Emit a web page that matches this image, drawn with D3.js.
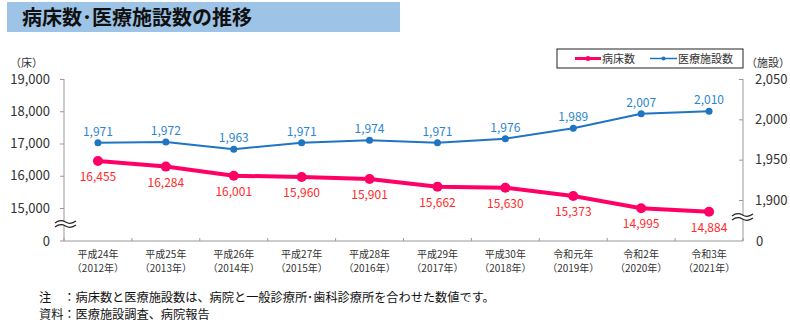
<!DOCTYPE html>
<html><head><meta charset="utf-8">
<script src="https://cdn.jsdelivr.net/npm/d3@7"></script>
<style>
body{margin:0;background:#fff;}
svg text{font-family:"Noto Sans CJK JP","Noto Sans",sans-serif;}
</style></head>
<body><svg id="c" width="790" height="328"></svg>
<script>
const categories1 = ["平成24年","平成25年","平成26年","平成27年","平成28年","平成29年","平成30年","令和元年","令和2年","令和3年"];
const categories2 = ["（2012年）","（2013年）","（2014年）","（2015年）","（2016年）","（2017年）","（2018年）","（2019年）","（2020年）","（2021年）"];
const beds = [16455,16284,16001,15960,15901,15662,15630,15373,14995,14884];
const facilities = [1971,1972,1963,1971,1974,1971,1976,1989,2007,2010];
const leftTicks = [15000,16000,17000,18000,19000];
const rightTicks = [1900,1950,2000,2050];
const title = "病床数･医療施設数の推移";
const note1 = "注　：病床数と医療施設数は、病院と一般診療所･歯科診療所を合わせた数値です。";
const note2 = "資料：医療施設調査、病院報告";

const svg = d3.select("#c");
const pink = "#ff0066", blue = "#1f74c3", pinkLbl = "#ff2a2a", blueLbl = "#2b85cf", axisC = "#999";
const L = 64, R = 743, T = 79, B = 241;

// title bar
svg.append("rect").attr("x",7).attr("y",2).attr("width",393).attr("height",30).attr("fill","#9dc3e6");
svg.append("text").attr("x",22).attr("y",24.5).attr("font-size",20).attr("font-weight","bold").attr("fill","#111").text(title);

const x = d3.scalePoint().domain(d3.range(categories1.length)).range([L,R]).padding(0.5);
const yL = d3.scaleLinear().domain([15000,19000]).range([208,T]);
const yR = d3.scaleLinear().domain([1900,2050]).range([200,T]);

// axes lines
svg.append("line").attr("x1",L).attr("x2",L).attr("y1",T).attr("y2",B).attr("stroke",axisC);
svg.append("line").attr("x1",R).attr("x2",R).attr("y1",T).attr("y2",B).attr("stroke",axisC);
svg.append("line").attr("x1",L).attr("x2",R).attr("y1",B).attr("y2",B).attr("stroke",axisC);

// left ticks
const gl = svg.append("g").attr("transform",`translate(${L},0)`)
  .call(d3.axisLeft(yL).tickValues(leftTicks).tickFormat(d3.format(",")).tickSize(4).tickPadding(10));
gl.select(".domain").remove();
gl.selectAll("line").attr("stroke",axisC);
gl.selectAll("text").attr("font-size",13).attr("fill","#333").attr("font-family","Liberation Sans, Arial, sans-serif");
svg.append("text").attr("x",50).attr("y",B).attr("dy","0.35em").attr("text-anchor","end").attr("font-size",13).attr("fill","#333").attr("font-family","Liberation Sans, Arial, sans-serif").text("0");
svg.append("line").attr("x1",L-4).attr("x2",L).attr("y1",B).attr("y2",B).attr("stroke",axisC);

// right ticks (inward)
const gr = svg.append("g").attr("transform",`translate(${R},0)`)
  .call(d3.axisRight(yR).tickValues(rightTicks).tickFormat(d3.format(",")).tickSize(-4).tickPadding(12));
gr.select(".domain").remove();
gr.selectAll("line").attr("stroke",axisC);
gr.selectAll("text").attr("font-size",13).attr("fill","#333").attr("font-family","Liberation Sans, Arial, sans-serif");
svg.append("text").attr("x",756).attr("y",B).attr("dy","0.35em").attr("font-size",13).attr("fill","#333").attr("font-family","Liberation Sans, Arial, sans-serif").text("0");

// unit labels
svg.append("text").attr("x",10).attr("y",67).attr("font-size",11).attr("fill","#333").text("（床）");
svg.append("text").attr("x",746).attr("y",67).attr("font-size",11).attr("fill","#333").text("（施設）");

// x ticks at boundaries (inward)
const step = x.step();
d3.range(categories1.length+1).forEach(i=>{
  const xx = L + i*step;
  svg.append("line").attr("x1",xx).attr("x2",xx).attr("y1",B-3).attr("y2",B).attr("stroke",axisC);
});
// x labels (two lines)
categories1.forEach((c,i)=>{
  const t = svg.append("text").attr("text-anchor","middle").attr("font-size",10).attr("fill","#333");
  t.append("tspan").attr("x",x(i)).attr("y",257.5).text(c);
  t.append("tspan").attr("x",x(i)).attr("y",271.5).text(categories2[i]);
});

// break marks
function brk(cx, cy){
  const w = 21, g = svg.append("g");
  g.append("rect").attr("x",cx-w/2).attr("y",cy-2).attr("width",w).attr("height",4).attr("fill","#fff");
  [-2,2].forEach(o=>{
    g.append("path").attr("d",`M${cx-w/2},${cy+o+1} Q${cx-w/4},${cy+o-3} ${cx},${cy+o} T${cx+w/2},${cy+o-1}`)
     .attr("fill","none").attr("stroke","#222").attr("stroke-width",1.2);
  });
}
brk(65.5,224);
brk(742.5,217);

// lines
const lineB = d3.line().x((d,i)=>x(i)).y(d=>yL(d));
const lineF = d3.line().x((d,i)=>x(i)).y(d=>yR(d));
svg.append("path").datum(beds).attr("d",lineB).attr("fill","none").attr("stroke",pink).attr("stroke-width",4);
svg.append("path").datum(facilities).attr("d",lineF).attr("fill","none").attr("stroke",blue).attr("stroke-width",2);
svg.selectAll(".pb").data(beds).enter().append("circle").attr("cx",(d,i)=>x(i)).attr("cy",d=>yL(d)).attr("r",5).attr("fill",pink);
svg.selectAll(".pf").data(facilities).enter().append("circle").attr("cx",(d,i)=>x(i)).attr("cy",d=>yR(d)).attr("r",3.5).attr("fill",blue);

// data labels
const fmt = d3.format(",");
svg.selectAll(".lb").data(beds).enter().append("text").attr("x",(d,i)=>x(i)).attr("y",d=>yL(d)+20)
  .attr("text-anchor","middle").attr("font-size",12).attr("fill",pinkLbl).attr("font-family","Liberation Sans, Arial, sans-serif").text(d=>fmt(d));
svg.selectAll(".lf").data(facilities).enter().append("text").attr("x",(d,i)=>x(i)).attr("y",d=>yR(d)-7)
  .attr("text-anchor","middle").attr("font-size",12).attr("fill",blueLbl).attr("font-family","Liberation Sans, Arial, sans-serif").text(d=>fmt(d));

// legend
svg.append("rect").attr("x",557).attr("y",49).attr("width",186).attr("height",19).attr("fill","#fff").attr("stroke","#222").attr("stroke-width",1);
svg.append("line").attr("x1",575).attr("x2",601).attr("y1",58.5).attr("y2",58.5).attr("stroke",pink).attr("stroke-width",3);
svg.append("circle").attr("cx",588).attr("cy",58.5).attr("r",2.5).attr("fill",pink);
svg.append("text").attr("x",602).attr("y",62.5).attr("font-size",11).attr("fill","#333").text("病床数");
svg.append("line").attr("x1",650).attr("x2",677).attr("y1",58.5).attr("y2",58.5).attr("stroke",blue).attr("stroke-width",1.5);
svg.append("circle").attr("cx",663.5).attr("cy",58.5).attr("r",2).attr("fill",blue);
svg.append("text").attr("x",678).attr("y",62.5).attr("font-size",11).attr("fill","#333").text("医療施設数");

// notes (two lines)
const nt = svg.append("text").attr("font-size",12.2).attr("fill","#111");
nt.append("tspan").attr("x",39).attr("y",301.5).text(note1);
nt.append("tspan").attr("x",39).attr("y",318.5).text(note2);
</script></body></html>
